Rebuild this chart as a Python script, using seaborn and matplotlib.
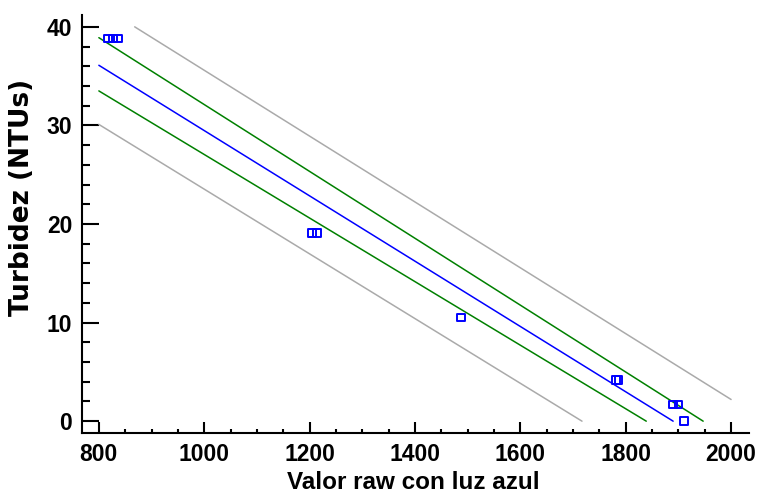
import matplotlib
matplotlib.use("Agg")
import matplotlib.pyplot as plt
import seaborn as sns
import pandas as pd
from matplotlib.ticker import MultipleLocator

# Observed points
obs_x = [817, 827, 836, 1205, 1214, 1487, 1782, 1786, 1890, 1900, 1911]
obs_y = [38.8, 38.8, 38.8, 19.1, 19.1, 10.5, 4.2, 4.2, 1.7, 1.7, 0.0]

# Fitted line
fit_x = [800, 1890]
fit_y = [36.1, 0.0]
# Confidence limits
conf_hi_x = [800, 1947]
conf_hi_y = [38.9, 0.0]
conf_lo_x = [800, 1839]
conf_lo_y = [33.5, 0.0]
# Prediction limits
pred_hi_x = [868, 2000]
pred_hi_y = [40.0, 2.2]
pred_lo_x = [800, 1717]
pred_lo_y = [30.1, 0.0]

sns.set_style("white")
plt.rcParams['font.family'] = ['Liberation Sans', 'DejaVu Sans']
plt.rcParams['font.weight'] = 'bold'
plt.rcParams['text.color'] = 'black'
plt.rcParams['axes.labelcolor'] = 'black'

fig = plt.figure(figsize=(7.57, 4.95), dpi=100)
ax = fig.add_axes([82/757, 1-433/495, (749-82)/757, (433-15)/495])

lw = 1.1
for xs, ys, c in [(pred_hi_x, pred_hi_y, '#aaaaaa'), (pred_lo_x, pred_lo_y, '#aaaaaa'),
                  (conf_hi_x, conf_hi_y, '#008000'), (conf_lo_x, conf_lo_y, '#008000'),
                  (fit_x, fit_y, '#0000ff')]:
    sns.lineplot(x=xs, y=ys, ax=ax, color=c, linewidth=lw, estimator=None, sort=False)

df = pd.DataFrame({'x': obs_x, 'y': obs_y})
sns.scatterplot(data=df, x='x', y='y', ax=ax, marker='s', s=30,
                facecolor='none', edgecolor='#0000ff', linewidth=1.4, zorder=5)

ax.set_xlim(768, 2034)
ax.set_ylim(-1.2, 41.2)
ax.xaxis.set_major_locator(MultipleLocator(200))
ax.xaxis.set_minor_locator(MultipleLocator(50))
ax.yaxis.set_major_locator(MultipleLocator(10))
ax.yaxis.set_minor_locator(MultipleLocator(2))

for s in ['top', 'right']:
    ax.spines[s].set_visible(False)
for s in ['left', 'bottom']:
    ax.spines[s].set_linewidth(1.5)
    ax.spines[s].set_color('black')

ax.tick_params(axis='both', which='both', bottom=True, left=True, top=False, right=False)
ax.tick_params(axis='both', which='major', direction='in', width=1.5,
               labelsize=16.5, pad=7, colors='black', labelcolor='black')
ax.tick_params(axis='both', which='minor', direction='in', width=1.5, colors='black')
ax.tick_params(axis='x', which='major', length=8)
ax.tick_params(axis='x', which='minor', length=3)
ax.tick_params(axis='y', which='major', length=12)
ax.tick_params(axis='y', which='minor', length=6)
for lab in ax.get_xticklabels() + ax.get_yticklabels():
    lab.set_fontweight('bold')

ax.set_xlabel('Valor raw con luz azul', fontsize=17.5, color='black',
              fontweight='bold')
ax.set_ylabel('Turbidez (NTUs)', fontsize=19, family=['DejaVu Sans'],
              color='black', fontweight='bold')
ax.xaxis.set_label_coords((413 - 82) / 667, (433 - 471) / 418)
ax.yaxis.set_label_coords((35 - 82) / 667, (433 - 197) / 418)
ax.grid(False)

fig.savefig('out.png', dpi=100)
